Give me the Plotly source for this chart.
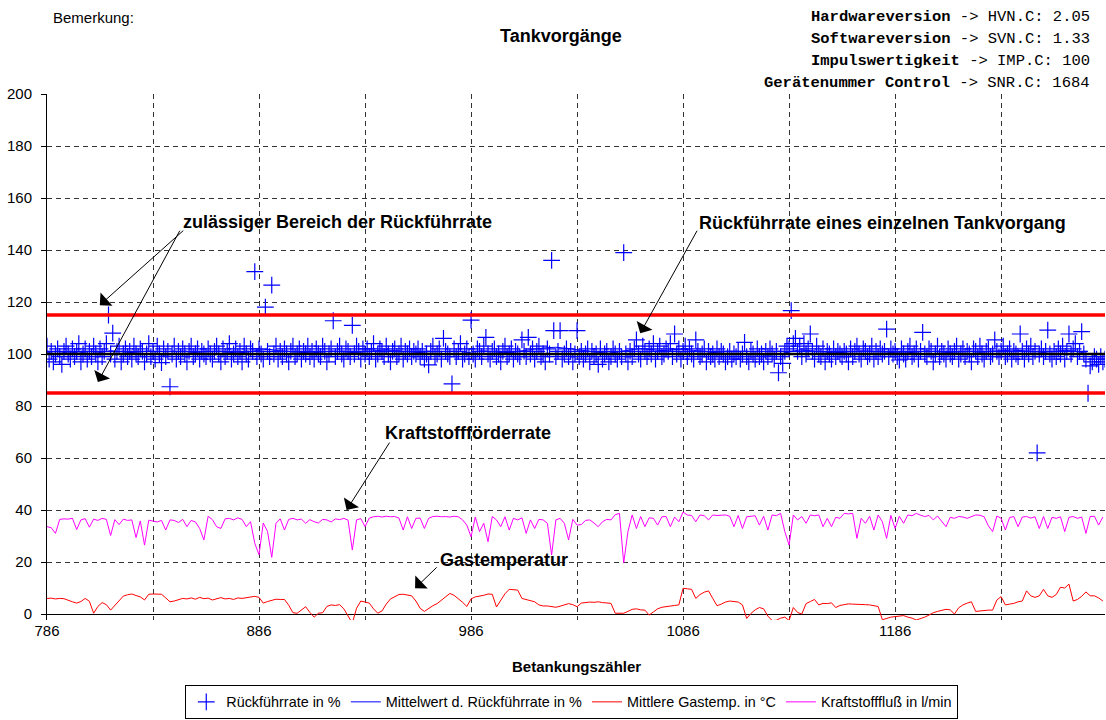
import plotly.graph_objects as go

# Betankungszähler (x axis)
zaehler = list(range(786, 1286))
zaehler_2 = list(range(786, 1286, 2))
zaehler_5 = list(range(786, 1286, 5))

tick_werte = [786, 836, 886, 936, 986, 1036, 1086, 1136, 1186, 1236]
tick_text = ["786", "", "886", "", "986", "", "1086", "", "1186", ""]
y_ticks = [0, 20, 40, 60, 80, 100, 120, 140, 160, 180, 200]

# Rückführrate in % (one value per Tankvorgang)
rueckfuehrrate = [
    103, 98, 101, 97, 100, 102, 99, 96, 101, 103, 100, 98, 102, 99, 101, 104, 97, 100, 102, 98, 101, 99, 103, 100, 97,
    102, 99, 101, 104, 115, 100, 108, 98, 101, 103, 97, 100, 102, 99, 101, 98, 103, 100, 99, 102, 101, 97, 100, 104, 99,
    101, 98, 103, 100, 96.7, 102, 99, 101, 87.4, 100, 103, 98, 101, 99, 102, 100, 97, 101, 103, 99, 100, 102, 98, 101, 100,
    99, 102, 100, 98, 101, 103, 100, 97, 102, 99, 101, 104, 98, 100, 102, 99, 101, 97, 103, 100, 98, 102, 101, 131.7, 99,
    102, 100, 98, 118, 101, 99, 126.5, 100, 103, 98, 101, 99, 102, 100, 97, 101, 103, 99, 100, 102, 98, 101, 100, 103, 99,
    101, 98, 102, 100, 99, 103, 101, 97, 100, 102, 112.8, 99, 101, 103, 100, 98, 102, 101, 99, 111, 100, 103, 101, 98, 102,
    100, 102, 99, 101, 104, 98, 100, 102, 101, 99, 103, 100, 97, 101, 102, 99, 100, 103, 98, 101, 100, 102, 99, 101, 100,
    102, 99, 101, 98, 100, 95.8, 101, 103, 99, 100, 102, 98, 106, 101, 100, 99, 88.5, 102, 99, 101, 104, 98, 100, 102, 99,
    113, 100, 98, 102, 101, 99, 103, 106.4, 100, 98, 101, 102, 99, 100, 97, 101, 103, 99, 100, 102, 98, 101, 100, 99, 105.4,
    101, 99, 106.4, 100, 102, 98, 101, 103, 99, 100, 97, 102, 100, 136, 109, 99, 101, 109, 98, 100, 102, 99, 101, 97, 100,
    109, 99, 101, 98, 100, 102, 97, 101, 99, 100, 96, 102, 98, 100, 101, 97, 99, 102, 100, 98, 101, 99, 139, 100, 97,
    101, 99, 102, 105.4, 100, 98, 103, 101, 99, 102, 100, 104, 98, 101, 103, 99, 100, 102, 101, 104, 99, 107.7, 100, 102, 98,
    101, 103, 99, 102, 100, 98, 105.4, 101, 99, 100, 102, 97, 101, 99, 100, 98, 102, 99, 101, 100, 97, 99, 101, 98, 100,
    99, 101, 98, 100, 104.5, 99, 97, 101, 100, 98, 102, 99, 100, 97, 101, 99, 102, 100, 98, 101, 92.8, 99, 96.4, 101, 103,
    102, 116.7, 104, 106, 101, 103, 99, 104, 100, 102, 107.7, 101, 98, 103, 100, 99, 102, 97, 101, 100, 98, 102, 99, 101, 100,
    99, 101, 100, 97, 102, 99, 101, 103, 100, 98, 102, 101, 99, 100, 103, 98, 101, 99, 102, 100, 101, 109.6, 99, 102, 100,
    101, 99, 97.7, 102, 100, 98, 101, 103, 99, 100, 102, 98, 101, 108.3, 100, 99, 102, 101, 97, 100, 103, 99, 101, 100, 98,
    102, 100, 99, 101, 103, 98, 100, 102, 99, 101, 100, 97, 102, 101, 99, 103, 100, 98, 101, 102, 99, 100, 105.4, 101, 99,
    101, 103, 99, 100, 102, 98, 101, 100, 99, 107.7, 101, 98, 102, 100, 103, 99, 101, 62, 100, 102, 99, 101, 109.2, 100, 98,
    101, 99, 102, 100, 103, 98, 101, 107.7, 100, 102, 104, 99, 101, 108.6, 100, 98, 84.9, 95.4, 97, 99, 98, 96, 99, 97, 98,
]

# Mittelwert d. Rückführrate in % (every 5th Tankvorgang)
mittelwert = [
    100.5, 100.2, 100.8, 100.4, 101.0, 100.6, 101.2, 100.9, 100.5, 100.3,
    100.1, 99.6, 99.8, 100.3, 100.6, 100.9, 101.1, 100.7, 100.4, 100.8,
    101.5, 101.8, 101.2, 100.9, 100.6, 100.4, 100.8, 101.1, 100.9, 100.5,
    100.9, 101.3, 101.6, 101.2, 100.8, 100.6, 100.3, 100.1, 99.9, 100.2,
    100.8, 101.2, 100.9, 100.5, 100.7, 101.4, 101.9, 102.4, 102.6, 102.2,
    101.6, 101.0, 100.6, 100.3, 100.8, 101.5, 102.1, 101.8, 101.3, 101.6,
    101.9, 101.4, 100.9, 100.5, 100.3, 100.1, 100.0, 99.8, 99.6, 99.9,
    100.8, 101.6, 101.3, 100.8, 100.5, 100.6, 100.9, 101.2, 101.0, 100.7,
    100.5, 100.4, 100.8, 101.1, 100.9, 100.6, 100.8, 101.0, 100.7, 100.9,
    101.2, 101.5, 101.3, 100.9, 100.6, 101.0, 101.4, 101.1, 100.2, 99.4,
]

# Mittlere Gastemp. in °C (every 2nd Tankvorgang)
gastemp = [
    6.0, 6.1, 5.8, 6.0, 5.9, 5.2, 4.7, 4.2, 4.8, 6.0, 4.9, 0.3, 2.9, 4.4, 3.6, 1.5, 3.3, 5.2, 6.9, 7.4, 7.7, 7.1, 6.6, 5.4, 7.6,
    7.7, 7.6, 7.6, 6.2, 4.7, 5.0, 5.6, 6.0, 5.8, 6.2, 5.7, 6.4, 5.9, 6.1, 5.4, 6.0, 6.3, 5.8, 6.0, 5.6, 6.2, 6.0, 6.3, 6.5, 6.8,
    6.4, 4.2, 4.8, 5.2, 5.7, 5.6, 5.6, 3.4, 0.5, 0.3, 1.6, 2.8, 0.6, -1.2, 0.3, 0.5, 2.9, 3.5, 3.3, 3.6, 2.0, -0.8, -3.5, 2.2, 5.0,
    4.6, 4.2, 2.0, 0.3, 1.2, 3.8, 5.8, 6.7, 7.5, 7.6, 7.3, 7.0, 5.0, 2.2, 1.0, 2.2, 3.2, 4.0, 5.3, 6.6, 7.9, 7.2, 6.0, 4.5, 2.9,
    5.8, 6.6, 6.8, 7.2, 7.7, 7.6, 2.7, 5.5, 7.8, 9.5, 9.3, 9.2, 6.0, 5.6, 5.3, 4.7, 3.5, 3.1, 3.1, 2.8, 2.6, 3.0, 3.5, 4.0, 3.6,
    2.8, 4.2, 4.4, 4.6, 4.5, 4.7, 4.4, 4.3, 4.1, 0.3, 0.4, 0.3, 1.0, 1.8, 2.0, 1.6, 1.5, -0.4, 0.8, 2.0, 2.6, 2.9, 3.1, 3.3, 3.5,
    9.9, 9.7, 9.5, 6.0, 7.5, 8.4, 8.9, 6.0, 3.2, 3.8, 4.6, 5.0, 4.8, 4.6, 3.5, -1.7, 0.2, 1.6, 2.5, 2.0, -0.8, -2.5, -2.4, -1.6, -1.2,
    -2.5, 2.5, 0.6, 0.0, 4.0, 4.8, 5.6, 3.5, 4.1, 4.0, 4.3, 2.5, 3.3, 3.6, 3.9, 3.8, 3.8, 3.8, 3.6, 3.5, 3.2, 2.9, -2.2, -1.6, -1.2,
    -1.0, -0.8, -0.6, -1.2, -1.6, -2.3, -1.8, -1.2, -0.4, 0.5, 1.0, 1.5, 1.8, 1.6, 0.0, 2.4, 3.5, 4.2, 4.7, 1.0, 1.2, 1.5, 1.5, 1.5, 5.4,
    6.7, 3.5, 3.8, 4.1, 4.7, 5.0, 8.9, 7.0, 6.4, 7.0, 9.5, 7.0, 6.4, 7.5, 10.3, 10.0, 11.5, 5.0, 5.6, 6.8, 8.5, 7.0, 7.0, 6.2, 5.0,
]

# Kraftstofffluß in l/min (every 2nd Tankvorgang)
kraftstofffluss = [
    33.6, 33.2, 31.0, 36.4, 36.6, 36.5, 36.8, 32.5, 36.2, 36.7, 33.4, 36.5, 36.0, 36.8, 36.4, 30.2, 36.3, 34.4, 36.5, 36.0, 36.2, 29.4, 35.8, 26.5, 36.1,
    35.6, 35.4, 36.0, 32.3, 36.2, 36.0, 35.2, 36.4, 33.6, 36.0, 35.4, 32.9, 28.5, 37.6, 36.3, 33.6, 32.9, 36.6, 36.8, 36.2, 37.0, 36.4, 33.6, 35.5, 27.2,
    22.8, 35.0, 31.8, 21.8, 34.9, 36.6, 32.3, 36.4, 36.8, 36.2, 36.5, 34.9, 36.3, 35.5, 35.0, 36.4, 36.2, 35.4, 36.6, 36.3, 36.8, 36.1, 24.6, 36.2, 36.7,
    33.6, 36.9, 37.4, 37.6, 37.3, 37.6, 37.4, 37.5, 36.9, 32.3, 37.4, 32.9, 36.8, 36.9, 32.9, 36.8, 37.5, 37.6, 37.4, 37.5, 37.3, 37.6, 37.4, 36.2, 34.2,
    29.7, 37.3, 31.7, 34.9, 27.8, 37.5, 36.2, 33.6, 37.4, 32.3, 36.8, 36.2, 37.0, 31.0, 36.2, 32.9, 36.4, 36.2, 34.9, 22.7, 36.2, 36.8, 34.9, 28.5, 36.4,
    34.2, 34.4, 36.0, 36.2, 35.0, 33.6, 35.5, 36.4, 36.2, 38.2, 38.7, 19.6, 31.7, 38.1, 32.9, 37.5, 33.6, 37.0, 36.8, 34.2, 37.4, 37.5, 33.6, 37.3, 35.5,
    39.2, 38.1, 37.9, 35.5, 38.1, 37.8, 36.2, 38.1, 37.9, 38.0, 38.1, 37.6, 33.6, 37.9, 32.9, 37.4, 37.5, 37.8, 34.2, 37.6, 32.3, 38.1, 37.8, 38.7, 31.7,
    26.5, 38.1, 36.2, 37.5, 34.9, 38.1, 37.8, 38.1, 33.6, 36.8, 33.6, 37.2, 36.8, 38.7, 38.5, 38.7, 29.1, 36.8, 34.9, 37.6, 32.3, 38.1, 35.5, 29.1, 37.9,
    32.9, 37.6, 34.9, 38.1, 37.8, 38.7, 38.0, 37.5, 37.9, 36.2, 37.7, 35.8, 33.6, 37.2, 36.8, 37.5, 37.3, 36.8, 37.6, 38.1, 38.0, 37.4, 33.9, 31.7, 37.7,
    36.8, 32.3, 37.1, 37.5, 33.6, 37.3, 37.5, 36.9, 37.4, 32.9, 37.5, 32.9, 37.2, 36.8, 37.4, 31.7, 37.2, 37.5, 36.8, 37.3, 31.0, 37.5, 37.6, 34.2, 37.3,
]

# Grenzen / Sollwert der Rückführrate
sollwert = 100
grenze_oben = 115
grenze_unten = 85

FONT = "Liberation Sans"
MONO = "Liberation Mono"

fig = go.Figure()

fig.add_trace(go.Scatter(
    x=zaehler, y=rueckfuehrrate, mode="markers", name="Rückführrate in %",
    marker=dict(symbol="cross-thin", size=12, color="#0000FF",
                line=dict(color="#0000FF", width=1.2)),
))
fig.add_trace(go.Scatter(
    x=zaehler_5, y=mittelwert, mode="lines", name="Mittelwert d. Rückführrate in %",
    line=dict(color="#0000FF", width=1),
))
fig.add_trace(go.Scatter(
    x=zaehler_2, y=gastemp, mode="lines", name="Mittlere Gastemp. in °C",
    line=dict(color="#FF0000", width=1),
))
fig.add_trace(go.Scatter(
    x=zaehler_2, y=kraftstofffluss, mode="lines", name="Kraftstofffluß in l/min",
    line=dict(color="#FF00FF", width=1),
))

# horizontal reference lines
fig.add_shape(type="line", xref="paper", x0=0, x1=1, y0=sollwert, y1=sollwert,
              line=dict(color="black", width=2.5), layer="above")
for g in [grenze_oben, grenze_unten]:
    fig.add_shape(type="line", xref="paper", x0=0, x1=1, y0=g, y1=g,
                  line=dict(color="#FF0000", width=3.5), layer="above")

bold = dict(family=FONT, size=18, color="black")

def pfeil(x, y, ax, ay):
    fig.add_annotation(x=x, y=y, ax=ax, ay=ay, xref="x", yref="y", axref="x", ayref="y",
                       text="", showarrow=True, arrowhead=1, arrowsize=3,
                       arrowwidth=1, arrowcolor="black")

def text_at(x, y, txt, ref="data", **kw):
    r = dict(xref="x", yref="y") if ref == "data" else dict(xref="paper", yref="paper")
    fig.add_annotation(x=x, y=y, text=txt, showarrow=False, yanchor="middle", **r, **kw)

# annotation texts
text_at(849, 150.8, "<b>zulässiger Bereich der Rückführrate</b>", xanchor="left", font=bold)
pfeil(810.9, 118.8, 851, 148)
pfeil(810.0, 89.2, 849, 148)

text_at(1092.5, 150.5, "<b>Rückführrate eines einzelnen Tankvorgang</b>", xanchor="left", font=bold)
pfeil(1065.8, 108, 1093, 148)

text_at(944.5, 69.6, "<b>Kraftstoffförderrate</b>", xanchor="left", font=bold)
pfeil(927.3, 40, 948, 66.5)

text_at(970.5, 20.8, "<b>Gastemperatur</b>", xanchor="left", font=bold)
pfeil(959.6, 9.9, 970.5, 18.5)

# header texts
text_at(0.486, 1.110, "<b>Tankvorgänge</b>", ref="paper", xanchor="center", font=bold)
text_at(0.004, 1.1445, "Bemerkung:", ref="paper", xanchor="left",
        font=dict(family=FONT, size=15, color="black"))

kopf = [
    ("Hardwareversion", "HVN.C: 2.05"),
    ("Softwareversion", "SVN.C: 1.33"),
    ("Impulswertigkeit", "IMP.C: 100"),
    ("Gerätenummer Control", "SNR.C: 1684"),
]
kopf_y = [1.1464, 1.1046, 1.0627, 1.0209]
for (lab, val), yy in zip(kopf, kopf_y):
    text_at(0.9877, yy, f"<b>{lab}</b> -&gt; {val}", ref="paper", xanchor="right",
            font=dict(family=MONO, size=15.5, color="black"))

text_at(0.5, -0.0875, "<b>Betankungszähler</b>", ref="paper", xanchor="center",
        font=dict(family=FONT, size=15, color="black"))

fig.update_layout(
    width=1106, height=720,
    margin=dict(l=47, r=1, t=94, b=100, autoexpand=False),
    paper_bgcolor="white", plot_bgcolor="white",
    font=dict(family=FONT, size=15, color="black"),
    showlegend=True,
    legend=dict(orientation="h", x=0.496, xanchor="center", y=-0.1882, yanchor="bottom",
                bordercolor="black", borderwidth=1, bgcolor="white",
                itemwidth=30, tracegroupgap=0,
                font=dict(family=FONT, size=14.4, color="black")),
    xaxis=dict(range=[786, 1285], tickmode="array", tickvals=tick_werte, ticktext=tick_text,
               showgrid=True, gridcolor="#333333", griddash="5px,4px", gridwidth=1,
               zeroline=False, showline=False, ticks="", automargin=False),
    yaxis=dict(range=[-2.3, 200], tickmode="array", tickvals=y_ticks,
               showgrid=True, gridcolor="#333333", griddash="5px,4px", gridwidth=1,
               zeroline=True, zerolinecolor="black", zerolinewidth=1,
               showline=True, linecolor="black", linewidth=1, automargin=False,
               ticks="outside", ticklen=5, tickcolor="black", ticklabelstandoff=6),
)

# page without the default body margin, so the chart starts at the window corner
fig.write_html("out.html", config={"displayModeBar": False},
               post_script="document.body.style.margin = '0px';")
